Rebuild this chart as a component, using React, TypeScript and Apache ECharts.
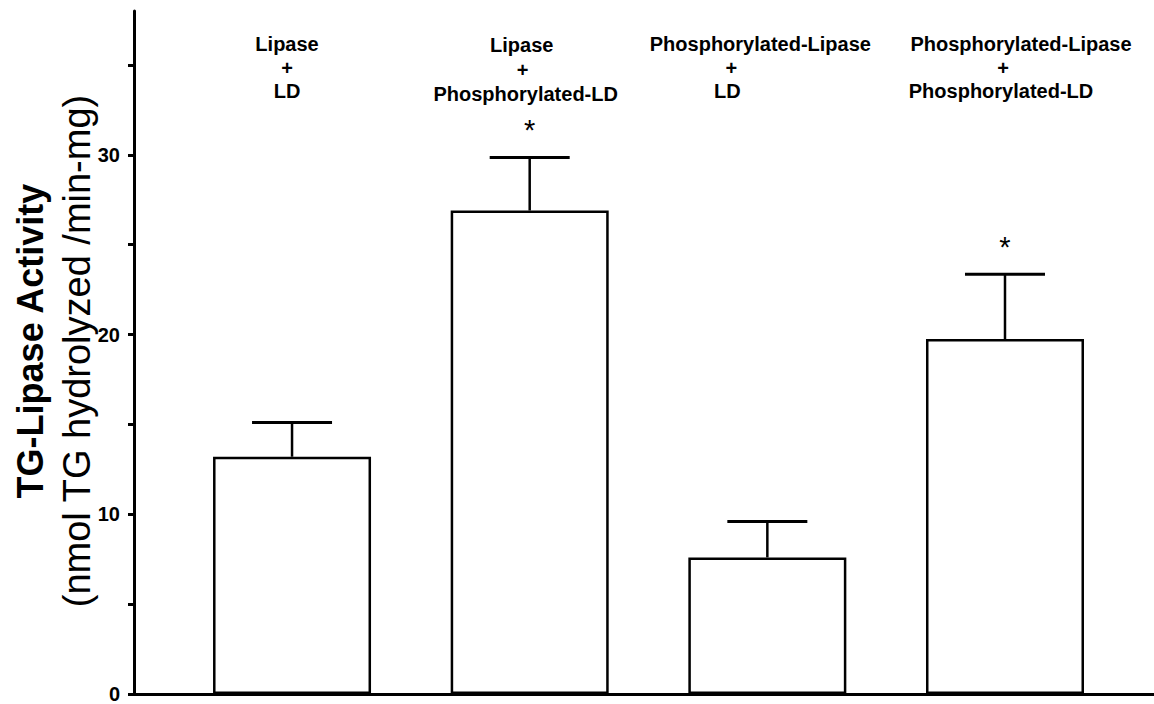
import React, { useEffect, useRef } from "react";
import * as echarts from "echarts";

// ---- data ----
const line1 = ["Lipase", "Lipase", "Phosphorylated-Lipase", "Phosphorylated-Lipase"];
const line2 = ["+", "+", "+", "+"];
const line3 = ["LD", "Phosphorylated-LD", "LD", "Phosphorylated-LD"];
const groupPos = [1, 2, 3, 4];
const means = [13.2, 26.9, 7.6, 19.75];
const upperErr = [1.9, 2.95, 2.0, 3.6];
const significance = ["", "*", "", "*"];
const yTickValues = [0, 5, 10, 15, 20, 25, 30, 35];
const yLabelValues = [0, 10, 20, 30];
const yTitle = "TG-Lipase Activity";
const ySubTitle = "(nmol TG hydrolyzed /min-mg)";

// ---- layout (label line horizontal shifts in px, per group) ----
const labelShift = [
  [-5, -5, -5],
  [-8, -7, -4],
  [-7, -36, -40],
  [16, -2, -4],
];
const labelDown = [0, 2, 0, 0];

const FONT = "'Liberation Sans', Arial, Helvetica, sans-serif";

export default function App() {
  const ref = useRef<HTMLDivElement>(null);
  useEffect(() => {
    if (!ref.current) return;
    const chart = echarts.init(ref.current, undefined, { renderer: "svg" });
    const option: any = {
      animation: false,
      backgroundColor: "#fff",
      grid: { left: 134, right: 0, top: 11, bottom: 4 },
      xAxis: {
        type: "value",
        min: 0.335,
        max: 4.627,
        axisLine: { show: true, onZero: true, lineStyle: { color: "#000", width: 3 } },
        axisTick: { show: false },
        axisLabel: { show: false },
        splitLine: { show: false },
      },
      yAxis: {
        type: "value",
        min: 0,
        max: 38,
        interval: 5,
        axisLine: { show: true, onZero: false, lineStyle: { color: "#000", width: 3 } },
        axisTick: {
          show: true,
          length: 6,
          customValues: yTickValues,
          lineStyle: { color: "#000", width: 3 },
        },
        axisLabel: {
          show: true,
          formatter: (v: number) => (yLabelValues.indexOf(v) >= 0 ? String(v) : ""),
          color: "#000",
          fontSize: 20,
          fontWeight: "bold",
          fontFamily: FONT,
          margin: 14,
          showMaxLabel: false,
        },
        splitLine: { show: false },
      },
      graphic: [
        {
          type: "text",
          x: 30,
          y: 341,
          rotation: Math.PI / 2,
          style: {
            text: yTitle,
            fontSize: 36,
            fontWeight: "bold",
            fontFamily: FONT,
            fill: "#000",
            align: "center",
            verticalAlign: "middle",
          },
        },
        {
          type: "text",
          x: 77,
          y: 351,
          rotation: Math.PI / 2,
          style: {
            text: ySubTitle,
            fontSize: 38,
            fontFamily: FONT,
            fill: "#000",
            align: "center",
            verticalAlign: "middle",
          },
        },
      ],
      series: [
        {
          type: "bar",
          data: groupPos.map((x, i) => [x, means[i]]),
          barWidth: 158,
          itemStyle: { color: "#fff", borderColor: "#000", borderWidth: 2.5 },
          z: 2,
        },
        {
          type: "custom",
          data: groupPos.map((x, i) => [x, means[i], means[i] + upperErr[i], i]),
          encode: { x: 0, y: [1, 2] },
          z: 3,
          renderItem: (params: any, api: any) => {
            const x = api.value(0);
            const b = api.coord([x, api.value(1)]);
            const t = api.coord([x, api.value(2)]);
            const idx = api.value(3);
            const children: any[] = [
              {
                type: "line",
                shape: { x1: b[0], y1: b[1], x2: t[0], y2: t[1] },
                style: { stroke: "#000", lineWidth: 2.5 },
              },
              {
                type: "line",
                shape: { x1: t[0] - 40, y1: t[1], x2: t[0] + 40, y2: t[1] },
                style: { stroke: "#000", lineWidth: 3 },
              },
            ];
            if (significance[idx]) {
              children.push({
                type: "text",
                x: t[0],
                y: t[1] - 27,
                style: {
                  text: significance[idx],
                  fontSize: 29,
                  fontFamily: FONT,
                  fill: "#000",
                  align: "center",
                  verticalAlign: "middle",
                },
              });
            }
            return { type: "group", children };
          },
        },
        {
          type: "custom",
          data: groupPos.map((x, i) => [x, 38, i]),
          encode: { x: 0, y: 1 },
          z: 4,
          renderItem: (params: any, api: any) => {
            const x = api.value(0);
            const idx = api.value(2);
            const p = api.coord([x, api.value(1)]);
            const lines = [line1[idx], line2[idx], line3[idx]];
            const ys = [33, 56.5, 80];
            return {
              type: "group",
              children: lines.map((txt, k) => ({
                type: "text",
                x: p[0] + labelShift[idx][k],
                y: p[1] + ys[k] + labelDown[idx] * (k === 0 ? 0.5 : k === 1 ? 1 : 1.5),
                style: {
                  text: txt,
                  fontSize: 20,
                  fontWeight: "bold",
                  fontFamily: FONT,
                  fill: "#000",
                  align: "center",
                  verticalAlign: "middle",
                },
              })),
            };
          },
        },
      ],
    };
    chart.setOption(option);
    return () => chart.dispose();
  }, []);
  return (
    <div
      ref={ref}
      style={{ position: "absolute", left: 0, top: 0, width: 1154, height: 704, background: "#fff" }}
    />
  );
}
